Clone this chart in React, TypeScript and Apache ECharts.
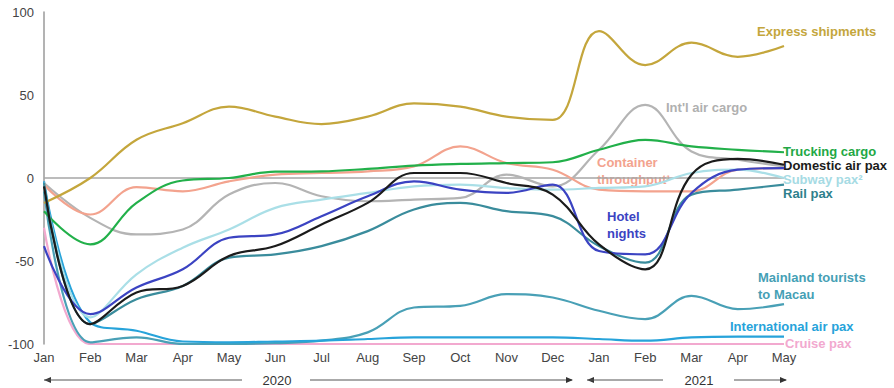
import React, { useEffect, useRef } from 'react';
import * as echarts from 'echarts';

// Monthly index values, Jan 2020 – May 2021 (% change vs. 2019 baseline)
const months = ['Jan', 'Feb', 'Mar', 'Apr', 'May', 'Jun', 'Jul', 'Aug', 'Sep', 'Oct', 'Nov', 'Dec', 'Jan', 'Feb', 'Mar', 'Apr', 'May'];

const cruisePax = [-30, -100, -100, -100, -100, -100, -100, -100, -100, -100, -100, -100, -100, -100, -100, -100, -100];
const mainlandTourists = [-8, -99, -96, -100, -100, -99.5, -98, -93, -78, -77, -70, -72, -80, -85, -71, -79, -76];
const internationalAirPax = [-2, -87, -92, -98.5, -99, -98.5, -98, -97, -96, -96, -96, -96, -97, -98, -96, -95.5, -95.5];
const intlAirCargo = [-3, -24, -34, -31, -10, -3, -11, -14, -13, -12, 2, -5, 17, 44, 16, 11, 7];
const containerThroughput = [-4, -22, -5.5, -8, -2, 2, 3, 4, 7, 19, 9, 5, -7, -8, -8, 5, 6];
const expressShipments = [-15, 0, 23, 33, 43, 37, 32.5, 37, 45, 43, 37, 35, 88.5, 68, 81.5, 73, 79.5];
const truckingCargo = [-20, -40, -15, -1.5, 0, 3.8, 4, 5.5, 7.5, 8.5, 9, 9.5, 17, 23, 19, 17, 15.5];
const subwayPax = [-5, -84, -58, -42, -31, -18, -13, -9, -5, -4, -6, -7, -6, -5, 3, 5, 0];
const railPax = [-3, -88, -73, -65, -48, -46, -41, -32, -19, -15, -20, -23, -41, -51, -10, -7, -4];
const hotelNights = [-41, -82, -66, -55, -36, -34, -23, -11, -2, -7, -9, -4, -44, -46, -9, 5, 6];
const domesticAirPax = [-5, -88, -69, -65, -47, -41, -28, -15, 3, 3, -3, -10, -40, -55, 2, 11.5, 8];

const FONT = '"Liberation Sans", Arial, Helvetica, sans-serif';

const seriesDefs: { name: string; data: number[]; color: string }[] = [
  { name: 'Cruise pax', data: cruisePax, color: '#f2a9cf' },
  { name: 'Mainland tourists to Macau', data: mainlandTourists, color: '#49a0b6' },
  { name: 'International air pax', data: internationalAirPax, color: '#27a3da' },
  { name: "Int'l air cargo", data: intlAirCargo, color: '#b4b4b4' },
  { name: 'Container throughput', data: containerThroughput, color: '#f3a38e' },
  { name: 'Express shipments', data: expressShipments, color: '#c4a63c' },
  { name: 'Trucking cargo', data: truckingCargo, color: '#22b04a' },
  { name: 'Subway pax', data: subwayPax, color: '#aadfe7' },
  { name: 'Rail pax', data: railPax, color: '#3a8c9c' },
  { name: 'Hotel nights', data: hotelNights, color: '#3b43c2' },
  { name: 'Domestic air pax', data: domesticAirPax, color: '#1b1b1b' },
];

function label(text: string, x: number, y: number, fill: string) {
  return {
    type: 'text',
    x,
    y,
    silent: true,
    style: {
      text,
      fill,
      font: `bold 13px ${FONT}`,
      lineHeight: 16.5,
      textAlign: 'left',
      textVerticalAlign: 'middle',
    },
  };
}

function hLine(x1: number, x2: number, y: number) {
  return {
    type: 'line',
    silent: true,
    shape: { x1, y1: y, x2, y2: y },
    style: { stroke: '#555', lineWidth: 1 },
  };
}

function arrowHead(x: number, y: number, dir: 1 | -1) {
  // dir = -1 points left, dir = 1 points right
  return {
    type: 'polygon',
    silent: true,
    shape: { points: [[x, y], [x - dir * 7, y - 3], [x - dir * 7, y + 3]] },
    style: { fill: '#333' },
  };
}

function yearText(text: string, x: number, y: number) {
  return {
    type: 'text',
    x,
    y,
    silent: true,
    style: {
      text,
      fill: '#333',
      font: `13px ${FONT}`,
      textAlign: 'center',
      textVerticalAlign: 'middle',
    },
  };
}

export default function App() {
  const ref = useRef<HTMLDivElement>(null);

  useEffect(() => {
    if (!ref.current) return;
    const chart = echarts.init(ref.current, undefined, { renderer: 'svg' });

    const series = seriesDefs.map((s, i) => ({
      name: s.name,
      type: 'line',
      data: s.data,
      smooth: 0.4,
      symbol: 'none',
      lineStyle: { color: s.color, width: 2.2 },
      itemStyle: { color: s.color },
      z: 2 + i,
      ...(i === 0
        ? {
            markLine: {
              silent: true,
              symbol: 'none',
              label: { show: false },
              lineStyle: { color: '#a6a6a6', width: 1.5, type: 'solid' },
              data: [{ yAxis: 0 }],
              z: 1,
            },
          }
        : {}),
    }));

    const yearY = 380;

    chart.setOption({
      animation: false,
      backgroundColor: '#ffffff',
      grid: { left: 44, right: 110, top: 12, bottom: 44 },
      xAxis: {
        type: 'category',
        data: months,
        boundaryGap: false,
        axisLine: { show: false },
        axisTick: { show: false },
        axisLabel: { color: '#444', fontSize: 13, fontFamily: FONT, margin: 7, interval: 0 },
        splitLine: { show: false },
      },
      yAxis: {
        type: 'value',
        min: -100,
        max: 100,
        interval: 50,
        axisLine: { show: true, lineStyle: { color: '#9a9a9a', width: 1.5 } },
        axisTick: { show: false },
        axisLabel: { color: '#444', fontSize: 13, fontFamily: FONT, margin: 10 },
        splitLine: { show: false },
      },
      series,
      graphic: [
        label('Express shipments', 757, 31, '#c4a63c'),
        label("Int'l air cargo", 666, 107, '#b0b0b0'),
        label('Trucking cargo', 783, 151, '#22a845'),
        label('Domestic air pax', 783, 165, '#1b1b1b'),
        label('Subway pax²', 783, 179, '#a6dbe4'),
        label('Rail pax', 783, 193, '#2f7f8c'),
        label('Container\nthroughput¹', 597, 171, '#f3a38e'),
        label('Hotel\nnights', 607, 225, '#3b43c2'),
        label('Mainland tourists\nto Macau', 758, 286, '#45a0b5'),
        label('International air pax', 730, 326, '#27a3da'),
        label('Cruise pax', 785, 343, '#f2a9cf'),

        // 2020 span
        arrowHead(44, yearY, -1),
        hLine(44, 242, yearY),
        yearText('2020', 277, yearY),
        hLine(310, 572, yearY),
        arrowHead(573, yearY, 1),

        // 2021 span
        arrowHead(587, yearY, -1),
        hLine(587, 663, yearY),
        yearText('2021', 699, yearY),
        hLine(734, 786, yearY),
        arrowHead(787, yearY, 1),
      ],
    });

    return () => chart.dispose();
  }, []);

  return (
    <div
      ref={ref}
      style={{ position: 'fixed', left: 0, top: 0, width: 894, height: 388, background: '#fff' }}
    />
  );
}
